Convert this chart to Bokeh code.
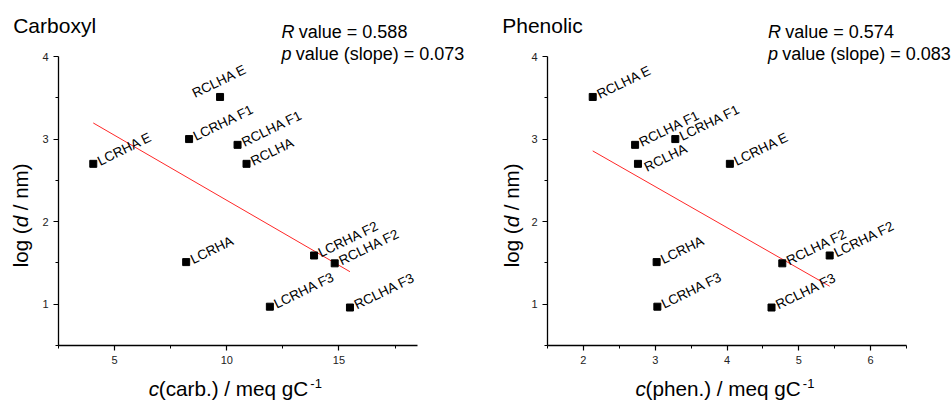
import numpy as np
from bokeh.plotting import figure
from bokeh.models import ColumnDataSource, Label, FixedTicker, GridBox, Range1d
from bokeh.core.properties import value
from bokeh.embed import file_html
from bokeh.resources import INLINE

# ---------------- data ----------------
names = ["LCRHA", "LCRHA E", "LCRHA F1", "LCRHA F2", "LCRHA F3",
         "RCLHA", "RCLHA E", "RCLHA F1", "RCLHA F2", "RCLHA F3"]
log_d = [1.51, 2.70, 3.00, 1.59, 0.97, 2.70, 3.51, 2.93, 1.495, 0.96]
c_carb = [8.19, 4.05, 8.32, 13.89, 11.92, 10.88, 9.70, 10.48, 14.81, 15.49]
c_phen = [3.02, 4.04, 3.28, 5.43, 3.03, 2.76, 2.13, 2.72, 4.77, 4.62]

carb_stats = ("0.588", "0.073")
phen_stats = ("0.574", "0.083")

carb_xticks = [5, 10, 15]
carb_xminor = [2.5, 7.5, 12.5, 17.5]
phen_xticks = [2, 3, 4, 5, 6]
phen_xminor = [1.5, 2.5, 3.5, 4.5, 5.5, 6.5]
yticks = [1, 2, 3, 4]
yminor = [0.5, 1.5, 2.5, 3.5]

# label placement (screen pixel offsets, y down)
carb_dx = [5, 5, 5, 5, 5, 5, -27, 5, 5, 5]
carb_dy = [-2, -2, -2, -2, -2, -2, -3, -2, -2, -2]
phen_dx = [5, 5, 5, 5, 5, 7, 5, 5, 5, 5]
phen_dy = [-2, -2, -2, -2, -2, 4, -2, -2, -2, -2]

FONT = "Liberation Sans"
H = 401
TOP, FH, FW = 56, 289, 359
YR = (0.5, 4.0)
W1, W2 = 478, 473
BASE_K = 0.32  # baseline correction (fraction of font size)


def make_fig(width, left, xr, xt, xm):
    p = figure(width=width, height=H, x_range=xr, y_range=YR,
               output_backend="svg", toolbar_location=None,
               min_border_left=left, min_border_right=width - left - FW,
               min_border_top=TOP, min_border_bottom=H - TOP - FH)
    p.outline_line_color = None
    p.grid.visible = False
    p.xaxis.ticker = FixedTicker(ticks=xt, minor_ticks=xm)
    p.yaxis.ticker = FixedTicker(ticks=yticks, minor_ticks=yminor)
    for ax in (p.xaxis[0], p.yaxis[0]):
        ax.axis_line_color = "black"
        ax.axis_line_width = 1.3
        ax.major_tick_line_color = "black"
        ax.major_tick_line_width = 1.2
        ax.minor_tick_line_color = "black"
        ax.major_tick_out = 5
        ax.major_tick_in = 0
        ax.minor_tick_out = 3
        ax.minor_tick_in = 0
        ax.major_label_text_font = FONT
        ax.major_label_text_font_size = "11px"
        ax.major_label_text_color = "#222222"
        ax.major_label_standoff = 5
    return p


def add_points(p, xvals, dx, dy):
    src = ColumnDataSource(dict(x=xvals, y=log_d, t=names, dx=dx, dy=dy))
    k, b = np.polyfit(xvals, log_d, 1)
    xs = [min(xvals), max(xvals)]
    p.line(xs, [k * v + b for v in xs], line_color="#ff0000", line_width=1, line_alpha=0.85)
    p.scatter("x", "y", source=src, marker="square", size=7, color="black")
    p.text("x", "y", text="t", source=src, x_offset="dx", y_offset="dy",
           angle=26, angle_units="deg", text_font=value(FONT),
           text_font_size="13.5px", text_align="left", text_baseline="alphabetic",
           text_color="black")


p1 = make_fig(W1, 58, (2.5, 18.5), carb_xticks, carb_xminor)
p2 = make_fig(W2, 69, (1.5, 6.5), phen_xticks, phen_xminor)
add_points(p1, c_carb, carb_dx, carb_dy)
add_points(p2, c_phen, phen_dx, phen_dy)

# transparent overlay in page pixels for titles and axis titles
ov = figure(width=W1 + W2, height=H, x_range=Range1d(0, W1 + W2), y_range=Range1d(H, 0),
            output_backend="svg", toolbar_location=None,
            x_axis_type=None, y_axis_type=None,
            min_border=0, min_border_left=0, min_border_right=0,
            min_border_top=0, min_border_bottom=0)
ov.frame_align = False
ov.outline_line_color = None
ov.grid.visible = False
ov.background_fill_color = None
ov.border_fill_color = None


def lab(x, y, text, fs, style="normal", angle=0):
    if angle == 0:
        y = y - BASE_K * fs
    else:
        x = x - BASE_K * fs
    ov.add_layout(Label(x=x, y=y, text=text, text_font=FONT,
                        text_font_size="%gpx" % fs, text_font_style=style,
                        text_align="left", text_baseline="alphabetic",
                        angle=angle, angle_units="deg", text_color="black"))


def panel_texts(L, title, tx, stats, sx, xword, xstart, xem, yx):
    lab(L + tx, 31.7, title, 21)
    lab(L + sx, 37.5, "R", 18, "italic")
    lab(L + sx + 17.3, 37.5, "value = " + stats[0], 18)
    lab(L + sx, 59.5, "p", 18, "italic")
    lab(L + sx + 14.2, 59.5, "value (slope) = " + stats[1], 18)
    fs = 20.7
    cx = L + xstart
    lab(cx - 10, 395, "c", fs, "italic")
    lab(cx, 395, "(" + xword + ") / meq gC", fs)
    lab(cx + xem * fs + 2, 387, "-1", 13)
    fy = 20.5
    y0 = 266.7
    lab(L + yx, y0, "log (", fy, angle=90)
    y1 = y0 - 1.945 * fy
    lab(L + yx, y1, "d", fy, "italic", angle=90)
    y2 = y1 - (0.556 + 0.278) * fy
    lab(L + yx, y2, "/ nm)", fy, angle=90)


panel_texts(0, "Carboxyl", 12.7, carb_stats, 281, "carb.", 158.3, 7.224, 26.7)
panel_texts(W1, "Phenolic", 23.7, phen_stats, 289.5, "phen.", 167, 7.503, 39.3)

layout = GridBox(children=[(p1, 0, 0), (p2, 0, 1), (ov, 0, 0, 1, 2)])
open("out.html", "w").write(file_html(layout, INLINE))
